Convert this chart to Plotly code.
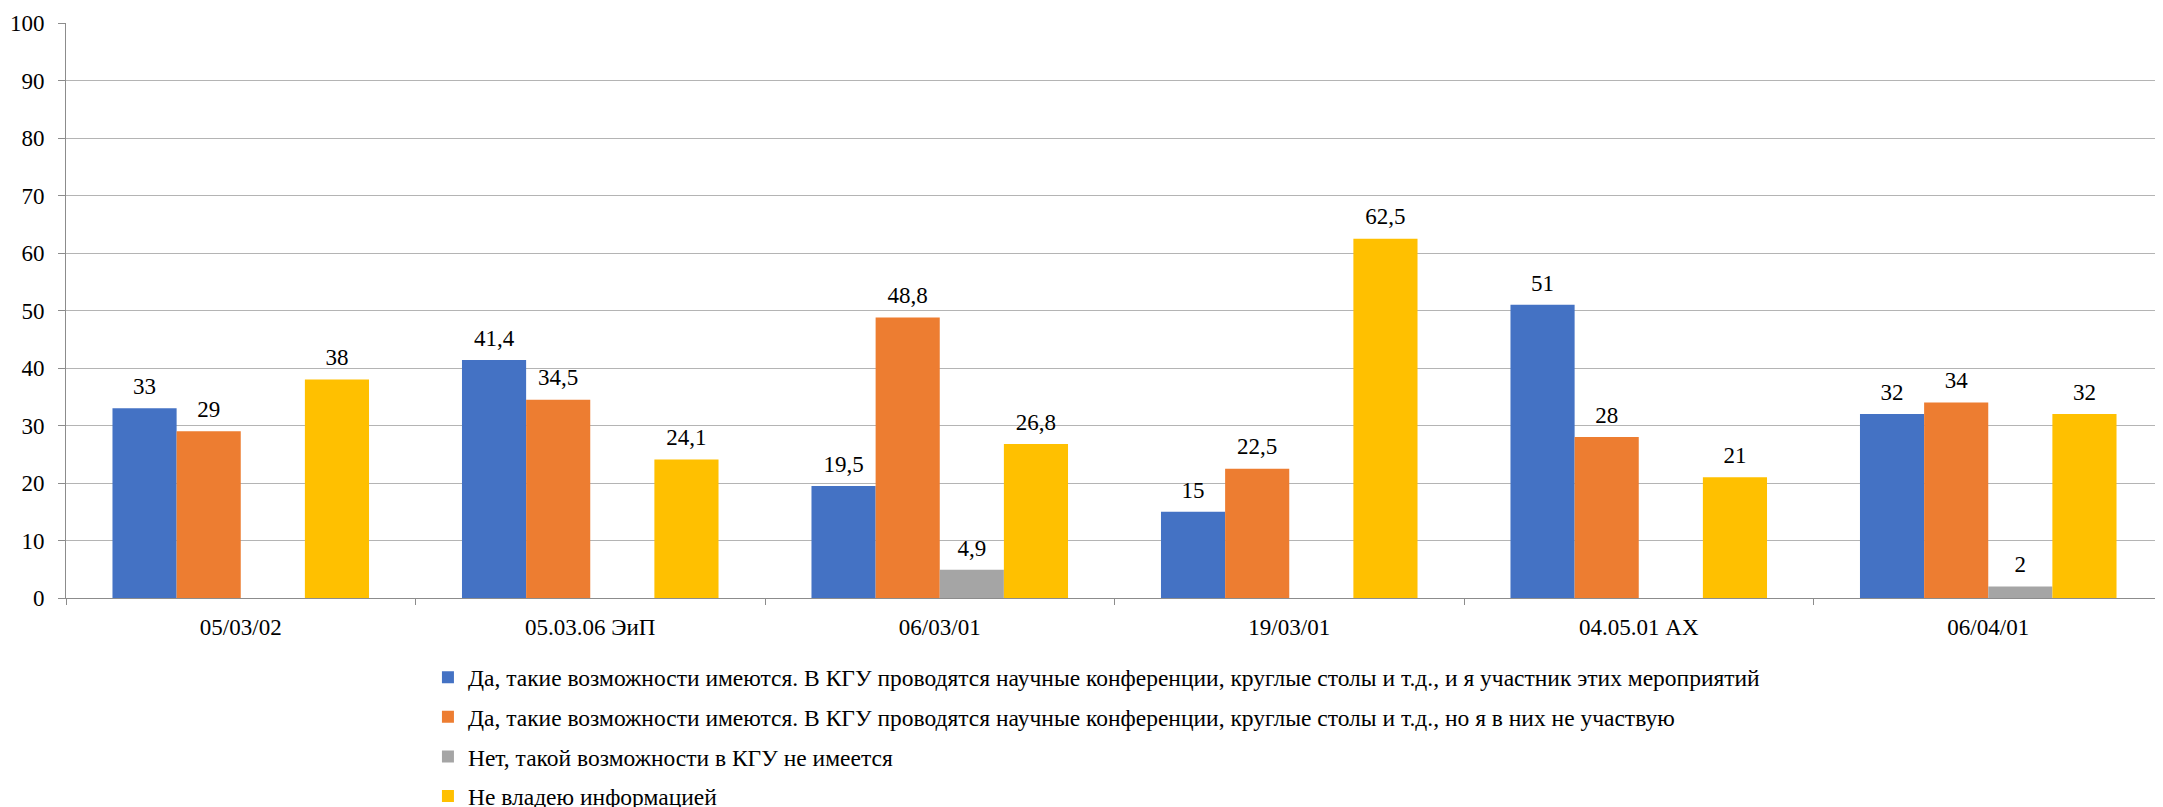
import plotly.graph_objects as go

# категории (группы) и значения по каждому варианту ответа
categories = ["05/03/02", "05.03.06 ЭиП", "06/03/01", "19/03/01", "04.05.01 АХ", "06/04/01"]

series_names = [
    "Да, такие возможности имеются. В КГУ проводятся научные конференции, круглые столы и т.д., и я участник этих мероприятий",
    "Да, такие возможности имеются. В КГУ проводятся научные конференции, круглые столы и т.д., но я в них не участвую",
    "Нет, такой возможности в КГУ не имеется",
    "Не владею информацией",
]

yes_participant = [33, 41.4, 19.5, 15, 51, 32]
yes_not_participant = [29, 34.5, 48.8, 22.5, 28, 34]
no_possibility = [None, None, 4.9, None, None, 2]
no_info = [38, 24.1, 26.8, 62.5, 21, 32]

y_ticks = [0, 10, 20, 30, 40, 50, 60, 70, 80, 90, 100]

colors = ["#4472C4", "#ED7D31", "#A5A5A5", "#FFC000"]
FONT = "Liberation Serif"
FS = 23
GAP = 0.266


def fmt(v):
    # подписи с десятичной запятой, как в исходнике
    if v is None:
        return ""
    if float(v).is_integer():
        return str(int(v))
    return str(v).replace(".", ",")


fig = go.Figure()
all_series = [yes_participant, yes_not_participant, no_possibility, no_info]
for i, vals in enumerate(all_series):
    fig.add_trace(go.Bar(
        x=categories,
        y=vals,
        name=series_names[i],
        legendgroup=f"g{i}",
        offsetgroup=str(i),
        marker=dict(color=colors[i], line=dict(width=0)),
    ))

# подписи значений отдельным слоем, чтобы отступ над столбцом был как в Excel
for i, vals in enumerate(all_series):
    fig.add_trace(go.Scatter(
        x=categories,
        y=vals,
        mode="markers+text",
        offsetgroup=str(i),
        marker=dict(size=12, opacity=0),
        text=[fmt(v) for v in vals],
        textposition="top center",
        textfont=dict(family=FONT, size=FS, color="black"),
        showlegend=False,
        hoverinfo="skip",
        cliponaxis=False,
    ))

# body страницы смещает фигуру на 8px; высота с запасом, чтобы легенда
# не сжимала область графика (нижняя часть всё равно за краем окна)
fig.update_layout(
    width=2155,
    height=845,
    barmode="group",
    bargap=GAP,
    bargroupgap=0,
    scattermode="group",
    scattergap=GAP,
    plot_bgcolor="white",
    paper_bgcolor="white",
    font=dict(family=FONT, size=FS, color="black"),
    margin=dict(l=58, r=0, t=15, b=255),
    showlegend=True,
    legend=dict(
        x=0.1726,
        xanchor="left",
        y=-0.1,
        yanchor="top",
        traceorder="grouped",
        tracegroupgap=6,
        font=dict(family=FONT, size=23.5, color="black"),
        bgcolor="rgba(0,0,0,0)",
    ),
    xaxis=dict(
        type="category",
        tickson="boundaries",
        ticks="outside",
        ticklen=6,
        tickcolor="#8C8C8C",
        showline=True,
        linecolor="#8C8C8C",
        linewidth=1,
        showgrid=False,
        ticklabelstandoff=8,
        automargin=False,
        tickfont=dict(family=FONT, size=FS, color="black"),
    ),
    yaxis=dict(
        range=[0, 100],
        tickvals=y_ticks,
        ticks="outside",
        ticklen=7,
        tickcolor="#8C8C8C",
        showline=True,
        linecolor="#8C8C8C",
        linewidth=1,
        showgrid=True,
        gridcolor="#B4B4B4",
        gridwidth=1,
        zeroline=False,
        ticklabelstandoff=9,
        automargin=False,
        tickfont=dict(family=FONT, size=FS, color="black"),
    ),
)

fig.write_html("out.html")
